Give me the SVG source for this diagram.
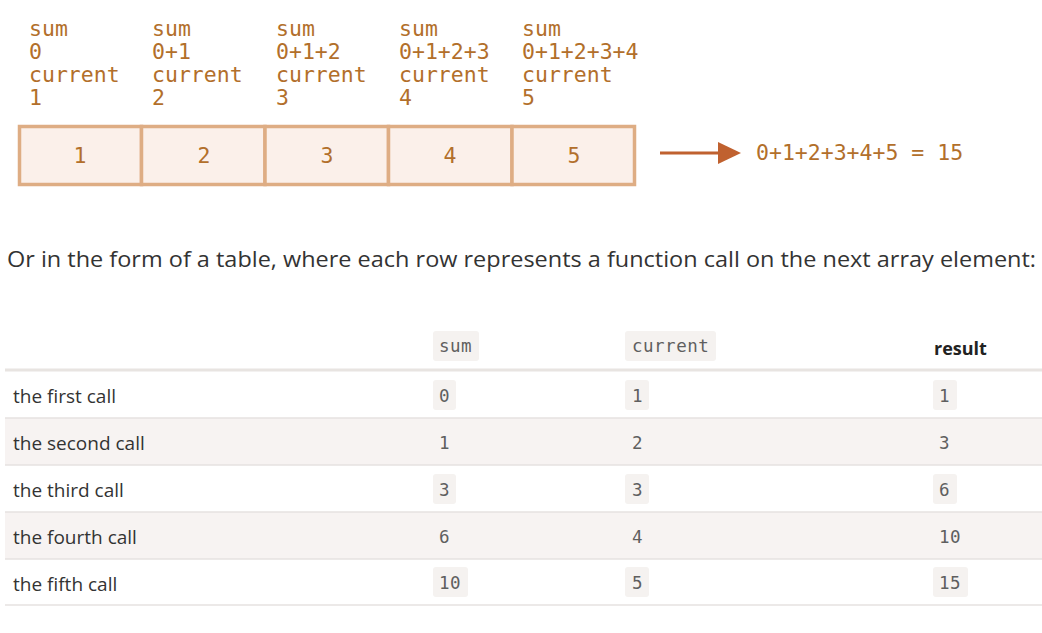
<svg xmlns="http://www.w3.org/2000/svg" width="1042" height="633" viewBox="0 0 1042 633">
<defs>
<style>
.lbl{font-family:"DejaVu Sans Mono","Liberation Mono",monospace;font-size:21.5px;fill:#B26F2B}
.cell{fill:#FBF0EA;stroke:#DEAD84;stroke-width:3.5}
.num{font-family:"DejaVu Sans Mono","Liberation Mono",monospace;font-size:21.5px;fill:#B26F2B;text-anchor:middle}
.para{font-family:"Open Sans","Noto Sans",sans-serif;font-size:22px;fill:#333}
.rowl{font-family:"Open Sans","Noto Sans",sans-serif;font-size:19px;fill:#333}
.code{font-family:"DejaVu Sans Mono","Liberation Mono",monospace;font-size:17.5px;fill:#5f5f5f;letter-spacing:0.5px}
.badge{fill:#F5F2F0}
.shade{fill:#F7F3F2}
.rule{stroke:#E6E2E0;stroke-width:1.5}
</style>
<marker id="ah" markerWidth="23" markerHeight="22" refX="0" refY="11" orient="auto" markerUnits="userSpaceOnUse" viewBox="0 0 23 22">
<path d="M0,0 L23,11 L0,22 Z" fill="#C0612F"/>
</marker>
</defs>
<rect width="1042" height="633" fill="#fff"/>

<g id="labels">
<text class="lbl" x="29" y="36">sum</text><text class="lbl" x="29" y="59">0</text><text class="lbl" x="29" y="82">current</text><text class="lbl" x="29" y="105">1</text>
<text class="lbl" x="152" y="36">sum</text><text class="lbl" x="152" y="59">0+1</text><text class="lbl" x="152" y="82">current</text><text class="lbl" x="152" y="105">2</text>
<text class="lbl" x="276" y="36">sum</text><text class="lbl" x="276" y="59">0+1+2</text><text class="lbl" x="276" y="82">current</text><text class="lbl" x="276" y="105">3</text>
<text class="lbl" x="399" y="36">sum</text><text class="lbl" x="399" y="59">0+1+2+3</text><text class="lbl" x="399" y="82">current</text><text class="lbl" x="399" y="105">4</text>
<text class="lbl" x="522" y="36">sum</text><text class="lbl" x="522" y="59">0+1+2+3+4</text><text class="lbl" x="522" y="82">current</text><text class="lbl" x="522" y="105">5</text>
</g>

<g id="cell1"><rect class="cell" x="19.5" y="126.5" width="122" height="58"/><text class="num" x="80" y="163">1</text></g>
<g id="cell2"><rect class="cell" x="141.5" y="126.5" width="123.5" height="58"/><text class="num" x="204" y="163">2</text></g>
<g id="cell3"><rect class="cell" x="265" y="126.5" width="123.5" height="58"/><text class="num" x="327" y="163">3</text></g>
<g id="cell4"><rect class="cell" x="388.5" y="126.5" width="123.5" height="58"/><text class="num" x="450" y="163">4</text></g>
<g id="cell5"><rect class="cell" x="512" y="126.5" width="122.5" height="58"/><text class="num" x="574" y="163">5</text></g>

<g id="connectors">
<line x1="660" y1="153" x2="718" y2="153" stroke="#C0612F" stroke-width="3" marker-end="url(#ah)"/>
</g>
<g id="result"><text class="lbl" x="756" y="160">0+1+2+3+4+5 = 15</text></g>

<text class="para" x="7" y="267" textLength="1029" lengthAdjust="spacingAndGlyphs">Or in the form of a table, where each row represents a function call on the next array element:</text>

<g id="table">
<rect class="badge" x="433" y="331" width="46" height="30" rx="3"/>
<text class="code" x="439" y="352">sum</text>
<rect class="badge" x="625" y="331" width="91" height="30" rx="3"/>
<text class="code" x="632" y="352">current</text>
<text x="934" y="355" font-family="'Open Sans','Noto Sans',sans-serif" font-size="18" font-weight="bold" fill="#222">result</text>
<line x1="5" y1="370" x2="1042" y2="370" stroke="#E8E4E1" stroke-width="3"/>

<rect class="shade" x="5" y="418" width="1037" height="47"/>
<rect class="shade" x="5" y="512" width="1037" height="47"/>
<line class="rule" x1="5" y1="418" x2="1042" y2="418"/>
<line class="rule" x1="5" y1="465" x2="1042" y2="465"/>
<line class="rule" x1="5" y1="512" x2="1042" y2="512"/>
<line class="rule" x1="5" y1="559" x2="1042" y2="559"/>
<line class="rule" x1="5" y1="605" x2="1042" y2="605"/>

<text class="rowl" x="13" y="403">the first call</text>
<text class="rowl" x="13" y="450">the second call</text>
<text class="rowl" x="13" y="497">the third call</text>
<text class="rowl" x="13" y="544">the fourth call</text>
<text class="rowl" x="13" y="591">the fifth call</text>

<rect class="badge" x="433" y="380" width="23" height="30" rx="3"/>
<rect class="badge" x="625" y="380" width="24" height="30" rx="3"/>
<rect class="badge" x="933" y="380" width="24" height="30" rx="3"/>
<text class="code" x="439" y="402">0</text><text class="code" x="632" y="402">1</text><text class="code" x="939" y="402">1</text>

<text class="code" x="439" y="449">1</text><text class="code" x="632" y="449">2</text><text class="code" x="939" y="449">3</text>

<rect class="badge" x="433" y="474" width="23" height="30" rx="3"/>
<rect class="badge" x="625" y="474" width="24" height="30" rx="3"/>
<rect class="badge" x="933" y="474" width="24" height="30" rx="3"/>
<text class="code" x="439" y="496">3</text><text class="code" x="632" y="496">3</text><text class="code" x="939" y="496">6</text>

<text class="code" x="439" y="543">6</text><text class="code" x="632" y="543">4</text><text class="code" x="939" y="543">10</text>

<rect class="badge" x="433" y="567" width="35" height="30" rx="3"/>
<rect class="badge" x="625" y="567" width="24" height="30" rx="3"/>
<rect class="badge" x="933" y="567" width="35" height="30" rx="3"/>
<text class="code" x="439" y="589">10</text><text class="code" x="632" y="589">5</text><text class="code" x="939" y="589">15</text>
</g>
</svg>
